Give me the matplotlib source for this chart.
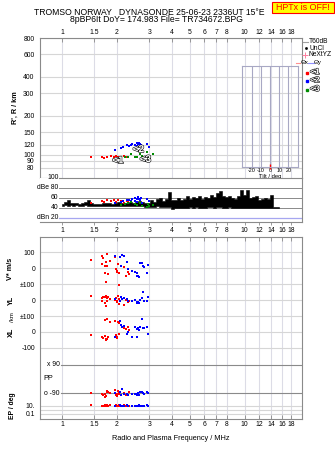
import numpy as np
import matplotlib
matplotlib.use("Agg")
import matplotlib.pyplot as plt
from matplotlib import patheffects as pe
from matplotlib import transforms as mtrans
from matplotlib.patches import Rectangle

plt.rcParams["font.family"] = ["Liberation Sans", "DejaVu Sans"]

# ---------------------------------------------------------------- data
freq_ticks = [1, 1.5, 2, 3, 4, 5, 6, 7, 8, 10, 12, 14, 16, 18]
freq_labels = ["1", "1.5", "2", "3", "4", "5", "6", "7", "8", "10", "12", "14", "16", "18"]
height_ticks = [80, 90, 100, 120, 150, 200, 300, 400, 600, 800]

# echo group <1 (red)
g1_freq = [1.45, 1.65, 1.70, 1.76, 1.85, 1.93, 1.97, 2.03, 2.10, 2.18, 2.26, 2.31]
g1_height = [96, 96, 94, 97, 98, 97, 98, 97, 95, 99, 96, 96]
g1_amp = [49, 54, 52, 55, 53, 55, 52, 56, 54, 50, 53, 51]

# echo group <2 (blue)
g2_freq = [1.95, 2.10, 2.16, 2.26, 2.33, 2.38, 2.42, 2.50, 2.56, 2.60, 2.63, 2.67,
           2.70, 2.58, 2.52, 2.91, 2.98, 2.75]
g2_height = [110, 113, 116, 119, 117, 120, 121, 119, 124, 122, 123, 121,
             119, 118, 120, 122, 115, 117]
g2_amp = [50, 52, 54, 56, 55, 53, 58, 60, 57, 62, 58, 55, 60, 52, 54, 57, 53, 50]

# echo group <3 (green)
g3_freq = [2.10, 2.21, 2.31, 2.40, 2.51, 2.58, 2.67, 2.75, 2.91, 2.97, 2.99, 3.16]
g3_height = [95, 96, 96, 101, 96, 97, 101, 99, 105, 99, 96, 102]
g3_amp = [46, 48, 50, 52, 47, 45, 50, 44, 42, 48, 44, 46]

# received amplitude over the sweep (lower / upper envelope, dB)
sweep_freq = [1.00, 1.04, 1.08, 1.12, 1.16, 1.21, 1.25, 1.30, 1.35, 1.40,
              1.46, 1.51, 1.57, 1.63, 1.69, 1.76, 1.83, 1.90, 1.97, 2.05,
              2.12, 2.21, 2.29, 2.38, 2.47, 2.57, 2.67, 2.77, 2.87, 2.98,
              3.10, 3.22, 3.34, 3.47, 3.60, 3.74, 3.89, 4.04, 4.19, 4.35,
              4.52, 4.69, 4.87, 5.06, 5.26, 5.46, 5.67, 5.88, 6.11, 6.35,
              6.59, 6.84, 7.11, 7.38, 7.66, 7.96, 8.26, 8.58, 8.91, 9.26,
              9.61, 9.98, 10.4, 10.8, 11.2, 11.6, 12.0, 12.5, 13.0, 13.5,
              14.0, 14.5, 15.1, 15.4]
sweep_lo = [44, 45, 44, 45, 44, 45, 44, 44, 45, 44,
            44, 43, 44, 43, 43, 44, 44, 44, 43, 44,
            44, 44, 44, 43, 44, 44, 44, 43, 42, 42,
            42, 42, 43, 41, 42, 41, 42, 38, 40, 40,
            40, 39, 40, 41, 40, 41, 40, 40, 40, 41,
            41, 40, 41, 41, 40, 40, 41, 40, 40, 40,
            40, 40, 40, 40, 40, 40, 40, 40, 40, 40,
            40, 40, 40, 40]
sweep_hi = [47, 52, 55, 50, 49, 49, 48, 50, 52, 56,
            50, 48, 47, 48, 50, 49, 50, 48, 50, 51,
            50, 50, 49, 52, 50, 51, 53, 52, 50, 50,
            56, 52, 57, 60, 54, 58, 72, 55, 56, 60,
            55, 58, 63, 58, 62, 60, 64, 58, 61, 60,
            65, 62, 70, 74, 64, 62, 63, 60, 58, 64,
            76, 66, 75, 60, 62, 64, 56, 58, 60, 57,
            66, 41, 41, 41]

# drift velocity / location / polarization / elevation of echoes, group <1
v1_freq = [1.45, 1.65, 1.68, 1.76, 1.74, 1.65, 1.83, 1.72, 1.77, 1.72, 1.79, 1.74,
           1.95, 2.03, 1.97, 2.01, 2.06, 1.99, 2.05, 2.18, 2.31, 2.34, 2.24]
v1_vstar = [52, 79, 62, 90, 42, 27, 48, 15, 15, -27, -35, -83,
            73, 27, -6, -21, -31, -15, -104, 6, -21, -37, -48]
v1_yl = [27, 15, 19, 12, 23, -8, 6, -19, -8, 21, 17, -35,
         2, 23, 12, -6, 6, -12, -27, -29, -15, -8, 2]
v1_xl = [-19, -29, -40, 79, -46, -35, 64, 75, -42, -25, -35, -48,
         70, 62, -19, -29, 54, -38, -15, 23, 29, 12, 17]
v1_pp = [-88, -92, -100, -75, -108, -95, -90, -112, -80, -95, -85, -105,
         -70, -78, -100, -110, -92, -96, -84, -88, -98, -80, -102]
v1_ep = [11, 10, 10, 12, 9, 10, 11, 10, 9, 11, 10, 12,
         9, 10, 11, 10, 9, 10, 12, 11, 10, 9, 10]

# same, group <2
v2_freq = [1.95, 2.08, 2.13, 2.18, 2.10, 2.26, 2.41, 2.51, 2.58, 2.62, 2.65, 2.67,
           2.73, 2.76, 2.81, 2.91, 2.97, 2.56, 2.31]
v2_vstar = [77, 69, 83, 77, 15, 42, -15, -21, -27, -48, -56, 31,
            35, 15, 10, -31, 21, -48, -6]
v2_yl = [6, -8, 6, 12, 19, 6, -8, -2, -15, -12, -19, 2,
         12, 48, -8, -8, 19, -19, -6]
v2_xl = [-29, 71, 33, 37, 44, -12, -33, 29, 17, 23, 12, 29,
         81, 23, 27, 33, -12, -29, 0]
v2_pp = [-90, -85, -65, -96, -102, -96, -94, -96, -98, -90, -98, -82,
         -82, -86, -92, -84, -88, -95, -100]
v2_ep = [10, 11, 10, 9, 10, 11, 10, 10, 9, 10, 11, 10,
         10, 9, 10, 11, 10, 10, 9]

RED, BLUE, GREEN = "#ff0000", "#0000ff", "#008c00"
FRAME = "#8a8a8a"
GRID = "#d6d6d6"
VGRID = "#dcdce6"

# ---------------------------------------------------------------- figure
W, H = 335, 451
fig = plt.figure(figsize=(W / 100, H / 100), dpi=100)
fig.patch.set_facecolor("white")


def rect(x0, y0, x1, y1):
    return [x0 / W, 1 - y1 / H, (x1 - x0) / W, (y1 - y0) / H]


FMIN, FMAX = 0.758, 20.6
TICK_FS = 4.9


def style_freq(ax):
    ax.set_xscale("log")
    ax.set_xlim(FMIN, FMAX)
    ax.set_xticks(freq_ticks)
    ax.set_xticklabels(freq_labels)
    ax.xaxis.set_minor_locator(matplotlib.ticker.NullLocator())
    for s in ax.spines.values():
        s.set_color(FRAME)
        s.set_linewidth(0.8)
    ax.tick_params(labelsize=TICK_FS, colors="black", length=3, width=0.6,
                   pad=1.5)
    ax.tick_params(axis="both", color=FRAME)


def outlined(lw=0.8):
    return [pe.withStroke(linewidth=lw, foreground="black")]


# ---------------- virtual height panel
axh = fig.add_axes(rect(40, 38, 302, 177.7))
style_freq(axh)
axh.set_yscale("log")
axh.set_ylim(66.8, 800)
axh.set_yticks(height_ticks)
axh.set_yticklabels([str(t) for t in height_ticks])
axh.yaxis.set_minor_locator(matplotlib.ticker.NullLocator())
axh.xaxis.tick_top()
axh.tick_params(axis="x", direction="in", length=3, pad=1.5)
axh.tick_params(axis="y", length=0, pad=4)
for f in freq_ticks:
    axh.axvline(f, color=VGRID, lw=0.8, zorder=0)
for h in height_ticks:
    axh.axhline(h, color=GRID, lw=0.8, zorder=0)
axh.set_ylabel("R', R / km", fontsize=5.2, fontweight="bold", labelpad=3)

kw = dict(marker="s", s=3.2, linewidths=0, zorder=3)
axh.scatter(g1_freq, g1_height, color=RED, **kw)
axh.scatter(g2_freq, g2_height, color=BLUE, **kw)
axh.scatter(g3_freq, g3_height, color=GREEN, **kw)

for label, fx, hy in (("<1", 2.02, 91), ("<2", 2.62, 111), ("<3", 2.86, 93)):
    axh.text(fx, hy, label, color="white", fontsize=7.2, fontweight="bold",
             ha="center", va="center", path_effects=outlined(0.8), zorder=5)

# tilt inset
axt = fig.add_axes(rect(242.3, 65.7, 297.7, 167.3))
axt.patch.set_alpha(0)
axt.set_xlim(-30, 30)
axt.set_ylim(0, 1)
for s in axt.spines.values():
    s.set_color("#a8a8c4")
    s.set_linewidth(0.8)
for t in (-20, -10, 0, 10, 20):
    axt.axvline(t, color="#a8a8c4", lw=0.8)
axt.set_xticks([-20, -10, 0, 10, 20])
axt.set_xticklabels(["-20", "-10", "0", "10", "20"])
axt.set_yticks([])
axt.tick_params(axis="x", length=0, labelsize=3.9, pad=0.8)
axt.set_xlabel("Tilt / deg", fontsize=4.2, labelpad=0.2)
axt.vlines([0], -0.015, 0.03, color=RED, lw=1.0, clip_on=False)

# ---------------- amplitude panel
axa = fig.add_axes(rect(40, 177.7, 302, 222.3))
style_freq(axa)
axa.set_ylim(10.8, 100)
axa.set_yticks([])
axa.spines["left"].set_visible(False)
axa.spines["top"].set_visible(False)
axa.tick_params(axis="x", direction="out", length=2.5, pad=1.2)
blend_a = mtrans.blended_transform_factory(axa.transAxes, axa.transData)
x_in = (58.5 - 40) / 262
for lvl, txt in ((100, "100"), (80, "dBe 80"), (60, "60"), (40, "40"), (20, "dBn 20")):
    axa.text(x_in, lvl, txt, transform=blend_a, ha="right", va="center",
             fontsize=TICK_FS)
for lvl in (80, 60, 40):
    axa.axhline(lvl, xmin=x_in + 0.003, color=FRAME, lw=0.7, zorder=0)
axa.axhline(100, xmin=x_in + 0.003, color=FRAME, lw=0.8, zorder=0)
axa.axhline(20, xmin=x_in + 0.003, color="#a6a6f0", lw=0.9, zorder=0)
axa.fill_between(sweep_freq, sweep_lo, sweep_hi, step="mid", color="black",
                 lw=0.4, edgecolor="black", zorder=2)
kwa = dict(marker="s", s=4.5, linewidths=0, zorder=3)
axa.scatter(g1_freq, g1_amp, color=RED, **kwa)
axa.scatter(g2_freq, g2_amp, color=BLUE, **kwa)
axa.scatter(g3_freq, g3_amp, color=GREEN, **kwa)

# ---------------- drift / location / polarization / elevation panel
V_OFF, YL_OFF, XL_OFF, PP_OFF = 0, -200, -400, -696
EP_OFF, EP_SCALE = -890, 26

axb = fig.add_axes(rect(40, 236.7, 302, 419.3))
style_freq(axb)
axb.set_ylim(-950, 199)
yt = [100, 0, -100, -200, -300, -400, -500, -864, -916]
axb.set_yticks(yt)
axb.set_yticklabels(["100", "0", "±100", "0", "±100", "0", "-100", "10.", "0.1"])
axb.tick_params(axis="y", length=0, pad=3.5)
axb.tick_params(axis="x", direction="in", length=3, top=True)
for f in freq_ticks:
    axb.axvline(f, color=VGRID, lw=0.8, zorder=0)
for lvl in (100, 0, -100, -200, -300, -400, -500):
    axb.axhline(lvl, color=GRID, lw=0.8, zorder=0)
for ep in (10, 1, 0.1):
    axb.axhline(EP_OFF + EP_SCALE * np.log10(ep), color=GRID, lw=0.8, zorder=0)
blend_b = mtrans.blended_transform_factory(axb.transAxes, axb.transData)
x_in_b = (60 - 40) / 262
for lvl in (90, -90):
    axb.axhline(PP_OFF + lvl, xmin=x_in_b + 0.004, color=FRAME, lw=0.8, zorder=0)
axb.text(x_in_b, PP_OFF + 90, "x 90", transform=blend_b, ha="right",
         va="center", fontsize=TICK_FS)
axb.text(x_in_b, PP_OFF - 90, "o -90", transform=blend_b, ha="right",
         va="center", fontsize=TICK_FS)
axb.text((43 - 40) / 262, PP_OFF, "PP", transform=blend_b, ha="left",
         va="center", fontsize=TICK_FS + 0.3)

kwb = dict(marker="s", s=4.0, linewidths=0, zorder=3)
for fr, vs, yl, xl, pp, ep, col in (
        (v1_freq, v1_vstar, v1_yl, v1_xl, v1_pp, v1_ep, RED),
        (v2_freq, v2_vstar, v2_yl, v2_xl, v2_pp, v2_ep, BLUE)):
    fr = np.asarray(fr)
    axb.scatter(fr, V_OFF + np.asarray(vs), color=col, **kwb)
    axb.scatter(fr, YL_OFF + np.asarray(yl), color=col, **kwb)
    axb.scatter(fr, XL_OFF + np.asarray(xl), color=col, **kwb)
    axb.scatter(fr, PP_OFF + np.asarray(pp), color=col, **kwb)
    axb.scatter(fr, EP_OFF + EP_SCALE * np.log10(np.asarray(ep, float)),
                color=col, **kwb)

# ---------------------------------------------------------------- overlay
ov = fig.add_axes([0, 0, 1, 1], zorder=10)
ov.set_xlim(0, W)
ov.set_ylim(H, 0)
ov.axis("off")
ov.patch.set_alpha(0)

ov.text(149, 12.2, "TROMSO NORWAY   DYNASONDE 25-06-23 2336UT 15°E",
        ha="center", va="center", fontsize=6.2)
ov.text(156, 19.8, "8pBP6It DoY= 174.983 File= TR734672.BPG",
        ha="center", va="center", fontsize=6.2)

ov.add_patch(Rectangle((272, 1.5), 61.5, 11, facecolor="#ffff00",
                       edgecolor="#ff0000", lw=0.8))
ov.text(302.8, 7.2, "HPTx is OFF!", color="#ff0000", ha="center",
        va="center", fontsize=6.4)

# legend
LFS = 4.8
ov.plot([303, 308], [41.7, 41.7], color="#a0a0a0", lw=0.8)
ov.text(309, 41.7, "T60dB", fontsize=LFS, va="center")
ov.plot([305.5], [48.3], marker="s", ms=0.9, color="black", lw=0)
ov.text(309, 48.3, "UnCl", fontsize=LFS, va="center")
ov.plot([305], [54.8], marker="+", ms=4, mew=0.7, color="#ff7fa0", lw=0)
ov.text(308.5, 54.8, "NeXtYZ", fontsize=LFS, va="center")
ov.plot([295.5, 300], [62.6, 62.6], color="#ff9090", lw=0.8)
ov.text(300.5, 62.6, "Θx", fontsize=LFS - 0.3, va="center")
ov.plot([308, 313.5], [62.6, 62.6], color="#9090ff", lw=0.8)
ov.text(314, 62.6, "Θy", fontsize=LFS - 0.3, va="center")
for yy, col, txt in ((72.7, RED, "<1"), (80.9, BLUE, "<2"), (89.6, GREEN, "<3")):
    ov.plot([306.5], [yy], marker="s", ms=2.0, color=col, lw=0)
    ov.text(310, yy, txt, color="white", fontsize=6.0, fontweight="bold",
            va="center", path_effects=outlined(0.8))

# band labels of the lower panel
BFS = 5.2
ov.text(11, 269, "V* m/s", rotation=90, ha="center", va="center",
        fontsize=BFS, fontweight="bold")
ov.text(11, 300.3, "YL", rotation=90, ha="center", va="center",
        fontsize=BFS, fontweight="bold")
ov.text(12.5, 317, "/km", rotation=90, ha="center", va="center",
        fontsize=BFS - 0.8)
ov.text(11, 332, "XL", rotation=90, ha="center", va="center",
        fontsize=BFS, fontweight="bold")
ov.text(12, 406, "EP / deg", rotation=90, ha="center", va="center",
        fontsize=BFS - 0.3, fontweight="bold")
ov.text(171, 439, "Radio and Plasma Frequency / MHz", ha="center",
        va="center", fontsize=5.3)

fig.savefig("out.png", dpi=100)
